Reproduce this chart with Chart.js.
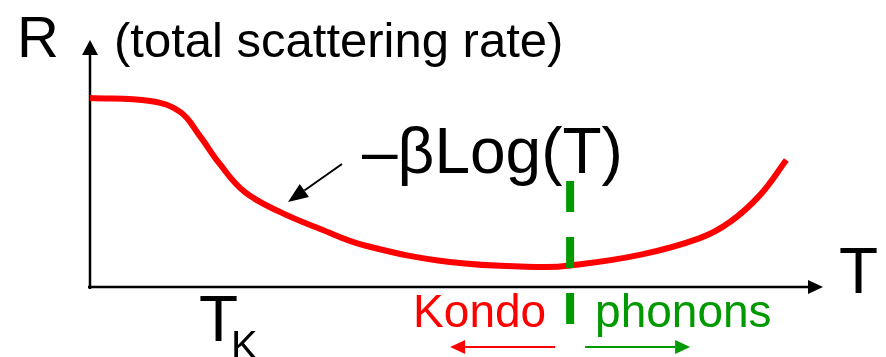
<!DOCTYPE html>
<html>
<head>
<meta charset="utf-8">
<title>Kondo minimum</title>
<script src="https://cdn.jsdelivr.net/npm/chart.js@4.4.1/dist/chart.umd.min.js"></script>
<style>
  html, body { margin: 0; padding: 0; background: #fff; }
  canvas { display: block; }
</style>
</head>
<body>
<canvas id="chart" width="886" height="357"></canvas>
<script>
// resistivity sketch: temperature (arb. units) vs total scattering rate (arb. units)
const temperature = [0, 8.2, 12.3, 15.0, 17.7, 21.1, 25.9, 31.4, 37.5, 49.1, 61.4, 65.5, 75.0, 83.2, 87.3, 91.4, 95.0];
const rate = [76.5, 75.3, 70.9, 61.1, 49.8, 38.5, 30.4, 23.5, 16.8, 10.1, 8.1, 8.7, 13.0, 19.8, 26.3, 37.2, 51.4];

// crossover between Kondo and phonon regimes
const crossoverT = [65.5, 65.5];
const crossoverR = [42.9, -15.0];
const kondoT = 15.0;

const RED = '#ff0000';
const GREEN = '#009900';
const FONT = '"Liberation Sans", Arial, sans-serif';

function arrow(ctx, x1, y1, x2, y2, color, width, headLen, headHalf) {
  const ang = Math.atan2(y2 - y1, x2 - x1);
  const bx = x2 - headLen * Math.cos(ang);
  const by = y2 - headLen * Math.sin(ang);
  ctx.strokeStyle = color;
  ctx.fillStyle = color;
  ctx.lineWidth = width;
  ctx.beginPath();
  ctx.moveTo(x1, y1);
  ctx.lineTo(bx, by);
  ctx.stroke();
  ctx.beginPath();
  ctx.moveTo(x2, y2);
  ctx.lineTo(bx + headHalf * Math.sin(ang), by - headHalf * Math.cos(ang));
  ctx.lineTo(bx - headHalf * Math.sin(ang), by + headHalf * Math.cos(ang));
  ctx.closePath();
  ctx.fill();
}

function text(ctx, str, x, y, size, color) {
  ctx.font = size + 'px ' + FONT;
  ctx.fillStyle = color;
  ctx.textBaseline = 'alphabetic';
  ctx.textAlign = 'left';
  ctx.fillText(str, x, y);
}

// hand-drawn style axes and labels
const sketchAxes = {
  id: 'sketchAxes',
  beforeDatasetsDraw(chart) {
    const { ctx, chartArea, scales } = chart;
    const x0 = scales.x.getPixelForValue(0);
    const y0 = scales.y.getPixelForValue(0);
    ctx.save();
    arrow(ctx, x0, y0 + 2, x0, chartArea.top, '#000', 2.5, 15, 8);
    arrow(ctx, x0 - 2, y0, chartArea.right, y0, '#000', 2.5, 15, 7);
    ctx.restore();
  },
  afterDraw(chart) {
    const { ctx, chartArea, scales } = chart;
    const y0 = scales.y.getPixelForValue(0);
    const xc = scales.x.getPixelForValue(crossoverT[0]);
    const xk = scales.x.getPixelForValue(kondoT);
    ctx.save();
    text(ctx, 'R', 17, 57, 58, '#000');
    text(ctx, '(total scattering rate)', 114, 57, 49, '#000');
    text(ctx, 'T', chartArea.right + 16, 293, 64, '#000');
    text(ctx, 'T', xk - 1, 341, 64, '#000');
    text(ctx, 'K', xk + 31, 359, 40, '#000');
    text(ctx, '\u2013\u03b2Log(T)', 362, 173, 64, '#000');
    arrow(ctx, 342, 164, 288, 202, '#000', 2, 20, 8);

    text(ctx, 'Kondo', xc - 157, y0 + 40, 46, RED);
    text(ctx, 'phonons', xc + 25, y0 + 40, 46, GREEN);
    arrow(ctx, xc - 15, y0 + 60, xc - 120, y0 + 60, RED, 2, 15, 7);
    arrow(ctx, xc + 15, y0 + 60, xc + 120, y0 + 60, GREEN, 2, 15, 7);
    ctx.restore();
  }
};

const ctx = document.getElementById('chart').getContext('2d');
new Chart(ctx, {
  type: 'line',
  data: {
    datasets: [
      {
        data: crossoverT.map((t, i) => ({ x: t, y: crossoverR[i] })),
        borderColor: GREEN,
        borderWidth: 8,
        borderDash: [31, 25],
        pointRadius: 0,
        clip: false,
        order: 0
      },
      {
        data: temperature.map((t, i) => ({ x: t, y: rate[i] })),
        borderColor: RED,
        borderWidth: 6,
        pointRadius: 0,
        tension: 0.4,
        clip: false,
        order: 1
      }
    ]
  },
  options: {
    responsive: false,
    animation: false,
    layout: { padding: { left: 90, right: 63, top: 40, bottom: 70 } },
    scales: {
      x: { type: 'linear', min: 0, max: 100, display: false },
      y: { type: 'linear', min: 0, max: 100, display: false }
    },
    plugins: { legend: { display: false }, tooltip: { enabled: false } }
  },
  plugins: [sketchAxes]
});
</script>
</body>
</html>
